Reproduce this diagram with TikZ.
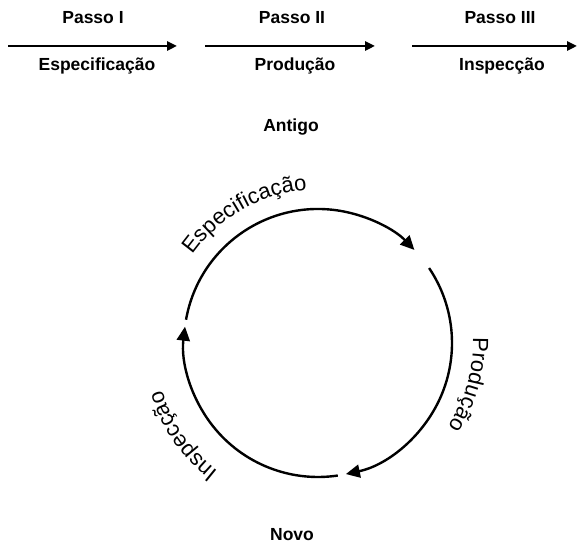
\documentclass[tikz,border=0pt]{standalone}
\usepackage{fontspec}
\setmainfont{Liberation Sans}
\usetikzlibrary{arrows.meta, decorations.text}

\newcommand\arcfont{\fontsize{22}{26}\selectfont}

\begin{document}
\begin{tikzpicture}[x=1pt, y=1pt,
    steptext/.style={font=\bfseries\fontsize{17.5}{21}\selectfont},
    steparrow/.style={line width=2.6pt, -{Triangle[length=10pt,width=9pt]}},
    cyclearc/.style={line width=2.4pt, -{Triangle[length=14pt,width=13pt]}},
    arclabel/.style={decorate, decoration={text along path, text align=center, text={|\arcfont|#1}}}]
    \useasboundingbox (0,0) rectangle (577,546);

    % Antigo: the steps one after another
    \node[steptext] (passoA) at (93,528) {Passo I};
    \node[steptext] (passoB) at (292,528) {Passo II};
    \node[steptext] (passoC) at (500,528) {Passo III};
    \node[steptext] (espA) at (97,480) {Especificação};
    \node[steptext] (prodA) at (295,480) {Produção};
    \node[steptext] (inspA) at (502,480) {Inspecção};

    \coordinate (arrAs) at (8,500);   \coordinate (arrAe) at (177,500);
    \coordinate (arrBs) at (205,500); \coordinate (arrBe) at (375,500);
    \coordinate (arrCs) at (412,500); \coordinate (arrCe) at (577,500);
    \draw[steparrow] (arrAs) -- (arrAe);
    \draw[steparrow] (arrBs) -- (arrBe);
    \draw[steparrow] (arrCs) -- (arrCe);

    \node[steptext] (antigo) at (291,419) {Antigo};

    % Novo: the steps as a cycle
    \coordinate (ctr) at (318,203);
    \draw[cyclearc] ([shift={(170:134)}]ctr) arc[start angle=170, end angle=44, radius=134];
    \draw[cyclearc] ([shift={(34:134)}]ctr) arc[start angle=34, end angle=-78, radius=134];
    \draw[cyclearc] ([shift={(-81.5:134)}]ctr) arc[start angle=-81.5, end angle=-187, radius=134];

    \path[arclabel={Especificação}] ([shift={(160:153)}]ctr) arc[start angle=160, end angle=79, radius=153];
    \path[arclabel={Produção}] ([shift={(25:155)}]ctr) arc[start angle=25, end angle=-56, radius=155];
    \path[arclabel={Inspecção}] ([shift={(255:163)}]ctr) arc[start angle=255, end angle=174, radius=163];

    \node[steptext] (novo) at (292,11) {Novo};
\end{tikzpicture}
\end{document}
